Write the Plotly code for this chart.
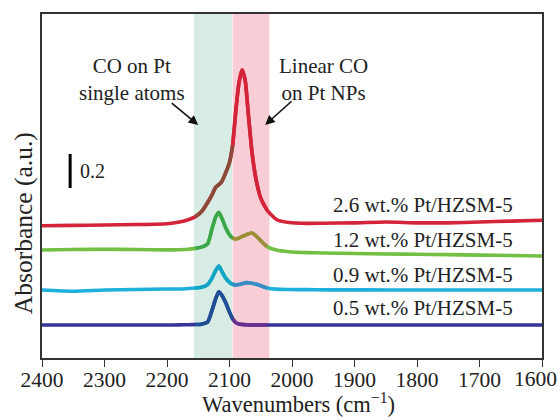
import plotly.graph_objects as go

# Wavenumber grid (cm-1)
wavenumber = [2400, 2350, 2300, 2250, 2200, 2180, 2165, 2155, 2145, 2135, 2128, 2122,
              2117, 2112, 2106, 2100, 2095, 2090, 2085, 2080, 2075, 2070, 2064, 2058,
              2050, 2040, 2025, 2005, 1975, 1950, 1900, 1850, 1800, 1750, 1700, 1650, 1600]

# Absorbance (offset, a.u.)
abs_26 = [0.778, 0.780, 0.782, 0.785, 0.790, 0.800, 0.815, 0.830, 0.860, 0.915, 0.960, 1.005,
          1.020, 1.040, 1.090, 1.150, 1.250, 1.450, 1.615, 1.695, 1.635, 1.440, 1.210, 1.060,
          0.940, 0.870, 0.815, 0.797, 0.792, 0.793, 0.795, 0.800, 0.795, 0.795, 0.800, 0.805, 0.810]
abs_12 = [0.635, 0.638, 0.640, 0.638, 0.636, 0.637, 0.640, 0.645, 0.652, 0.672, 0.760, 0.830,
          0.855, 0.820, 0.765, 0.725, 0.705, 0.700, 0.705, 0.715, 0.722, 0.730, 0.735, 0.720,
          0.690, 0.655, 0.635, 0.625, 0.620, 0.618, 0.615, 0.612, 0.610, 0.608, 0.605, 0.603, 0.600]
abs_09 = [0.400, 0.393, 0.400, 0.403, 0.406, 0.406, 0.409, 0.412, 0.416, 0.432, 0.470, 0.515,
          0.541, 0.508, 0.470, 0.445, 0.433, 0.430, 0.432, 0.437, 0.442, 0.443, 0.440, 0.435,
          0.425, 0.412, 0.405, 0.403, 0.402, 0.401, 0.401, 0.400, 0.400, 0.400, 0.400, 0.400, 0.400]
abs_05 = [0.194, 0.194, 0.194, 0.194, 0.194, 0.195, 0.196, 0.197, 0.199, 0.212, 0.280, 0.350,
          0.390, 0.368, 0.325, 0.270, 0.230, 0.208, 0.200, 0.197, 0.196, 0.195, 0.194, 0.194,
          0.194, 0.194, 0.194, 0.194, 0.194, 0.194, 0.194, 0.194, 0.194, 0.194, 0.194, 0.194, 0.194]

series_labels = ["2.6 wt.% Pt/HZSM-5", "1.2 wt.% Pt/HZSM-5", "0.9 wt.% Pt/HZSM-5", "0.5 wt.% Pt/HZSM-5"]
series_values = [abs_26, abs_12, abs_09, abs_05]
label_y = [0.90, 0.694, 0.488, 0.294]

colors = ["#d4243a", "#72bf44", "#1cb0da", "#373597"]
teal_tint = ["#8a4a38", "#3aa84a", "#12a6c4", "#1f4f95"]
pink_tint = ["#d4243a", "#a08c38", "#3a8cc2", "#6a3090"]

teal_band = (2157, 2096)
pink_band = (2095, 2036)
tick_vals = [2400, 2300, 2200, 2100, 2000, 1900, 1800, 1700, 1600]
tick_text = ["2400", "2300", "2200", "2100", "2000", "1900", "1800", "1700", ""]
last_tick_text = "1600"  # drawn separately so it stays inside the page, as in the reference
scale_bar = 0.2

FONT = "Liberation Serif"
fig = go.Figure()

for vals, c, ct, cp in zip(series_values, colors, teal_tint, pink_tint):
    fig.add_trace(go.Scatter(x=wavenumber, y=vals, mode="lines",
                             line=dict(color=c, width=3.6, shape="spline", smoothing=0.6),
                             showlegend=False, hoverinfo="skip"))
    ti = [i for i, w in enumerate(wavenumber) if 2095 <= w <= 2155]
    pi = [i for i, w in enumerate(wavenumber) if 2040 <= w <= 2095]
    fig.add_trace(go.Scatter(x=[wavenumber[i] for i in ti], y=[vals[i] for i in ti], mode="lines",
                             line=dict(color=ct, width=3.6, shape="spline", smoothing=0.6),
                             showlegend=False, hoverinfo="skip"))
    fig.add_trace(go.Scatter(x=[wavenumber[i] for i in pi], y=[vals[i] for i in pi], mode="lines",
                             line=dict(color=cp, width=3.6, shape="spline", smoothing=0.6),
                             showlegend=False, hoverinfo="skip"))

fig.add_shape(type="rect", xref="x", yref="paper", x0=teal_band[0], x1=teal_band[1], y0=0, y1=1,
              fillcolor="#d6ece5", line_width=0, layer="below")
fig.add_shape(type="rect", xref="x", yref="paper", x0=pink_band[0], x1=pink_band[1], y0=0, y1=1,
              fillcolor="#f9cdd6", line_width=0, layer="below")

# scale bar
fig.add_shape(type="line", xref="x", yref="y", x0=2355, x1=2355, y0=1.0, y1=1.0 + scale_bar,
              line=dict(color="black", width=3))
fig.add_annotation(x=2343, y=1.1, xref="x", yref="y", text=f"{scale_bar}", showarrow=False,
                   xanchor="left", yanchor="middle", font=dict(family=FONT, size=20, color="#222"))

for lab, ly in zip(series_labels, label_y):
    fig.add_annotation(x=1643, y=ly, xref="x", yref="y", text=lab, showarrow=False,
                       xanchor="right", yanchor="middle", font=dict(family=FONT, size=21, color="#222"))

# band annotations
for txt, xx, yy in [("CO on Pt<br>single atoms", 2256, 1.64),
                    ("Linear CO<br>on Pt NPs", 1950, 1.64)]:
    fig.add_annotation(x=xx, y=yy, xref="x", yref="y", text=txt, showarrow=False,
                       xanchor="center", yanchor="middle", align="center",
                       font=dict(family=FONT, size=21, color="#222"))

fig.add_annotation(x=2150, y=1.371, xref="x", yref="y", ax=-28, ay=-23, text="", showarrow=True,
                   arrowhead=2, arrowsize=1.2, arrowwidth=1.6, arrowcolor="#111")
fig.add_annotation(x=2043, y=1.371, xref="x", yref="y", ax=28, ay=-25, text="", showarrow=True,
                   arrowhead=2, arrowsize=1.2, arrowwidth=1.6, arrowcolor="#111")

# last tick label
fig.add_annotation(x=1.034, y=-0.061, xref="paper", yref="paper", text=last_tick_text,
                   showarrow=False, xanchor="right", yanchor="middle",
                   font=dict(family=FONT, size=21.5, color="#222"))

# axis titles
fig.add_annotation(x=-0.038, y=0.392, xref="paper", yref="paper", text="Absorbance (a.u.)",
                   showarrow=False, textangle=-90, xanchor="center", yanchor="middle",
                   font=dict(family=FONT, size=25.5, color="#222"))
fig.add_annotation(x=0.512, y=-0.131, xref="paper", yref="paper", text="Wavenumbers (cm<sup>−1</sup>)",
                   showarrow=False, xanchor="center", yanchor="middle",
                   font=dict(family=FONT, size=22.5, color="#222"))

fig.update_layout(
    width=560, height=420,
    margin=dict(l=42, r=18, t=14, b=62, autoexpand=False),
    paper_bgcolor="white", plot_bgcolor="white",
    showlegend=False,
    xaxis=dict(range=[2400, 1600], tickvals=tick_vals, ticktext=tick_text, ticks="outside",
               ticklen=7, tickwidth=1.2,
               tickcolor="#333", showgrid=False, zeroline=False, showline=True, linecolor="#333",
               linewidth=1.5, mirror=True, automargin=False, ticklabeloverflow="allow",
               ticklabelstandoff=-6,
               tickfont=dict(family=FONT, size=21.5, color="#222")),
    yaxis=dict(range=[0, 2.0235], showticklabels=False, ticks="", showgrid=False, zeroline=False,
               showline=True, linecolor="#333", linewidth=1.5, mirror=True, automargin=False),
)

fig.write_html("out.html")
